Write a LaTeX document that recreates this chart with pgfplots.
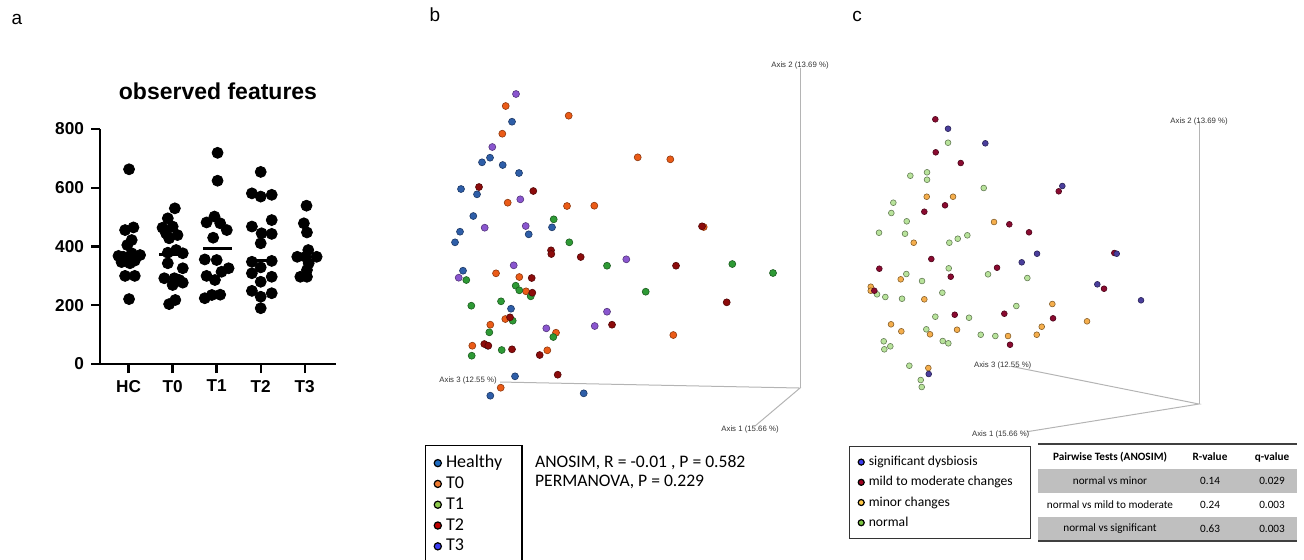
\documentclass[border=0pt]{standalone}
\usepackage{fontspec}
\setmainfont{Liberation Sans}
\newfontfamily\calibri{Carlito}
\usepackage{pgfplots}
\pgfplotsset{compat=1.18}
\definecolor{bblue}{HTML}{2E5EA8}
\definecolor{borange}{HTML}{EB5B17}
\definecolor{bgreen}{HTML}{2E9A35}
\definecolor{bred}{HTML}{8C0B0B}
\definecolor{bpurple}{HTML}{8A56CF}
\definecolor{lb1}{HTML}{1F6BC0}
\definecolor{lb2}{HTML}{EE7A30}
\definecolor{lb3}{HTML}{8DC94C}
\definecolor{lb4}{HTML}{BF0000}
\definecolor{lb5}{HTML}{3C3CF2}
\definecolor{cnavy}{HTML}{4A3E9C}
\definecolor{cred}{HTML}{8A0A30}
\definecolor{corange}{HTML}{F5AE4C}
\definecolor{cgreen}{HTML}{B8E39B}
\definecolor{lc1}{HTML}{3B3BF0}
\definecolor{lc2}{HTML}{A00020}
\definecolor{lc3}{HTML}{FFC845}
\definecolor{lc4}{HTML}{7CC540}
\definecolor{tgrey}{HTML}{BFBFBF}
\definecolor{axgrey}{HTML}{B4B4B4}
\pgfplotsset{
  pix/.style={at={(0pt,0pt)}, anchor=north west, scale only axis, width=652pt, height=279.5pt,
    xmin=0, xmax=1304, ymin=0, ymax=559, y dir=reverse, hide axis, clip=false},
  bpt/.style={forget plot, only marks, mark=*, mark size=1.75pt,
    mark options={fill=#1, draw=#1!60!black, line width=0.3pt}},
  cpt/.style={forget plot, only marks, mark=*, mark size=1.45pt,
    mark options={fill=#1, draw=#1!55!black, line width=0.3pt}},
  dotlegend/.style={legend image code/.code={\fill[##1] (0pt,0pt) circle (#1);}},
  apt/.style={only marks, mark=*, mark size=2.75pt, black},
}
\begin{document}
\begin{tikzpicture}[x=0.5pt,y=-0.5pt]
\path[use as bounding box] (0,0) rectangle (1304,559);

% panel letters
\node[font=\fontsize{9.5}{11}\selectfont] at (17,19) {a};
\node[font=\fontsize{9.5}{11}\selectfont] at (435,15) {b};
\node[font=\fontsize{9.5}{11}\selectfont] at (857,16) {c};

% ---------------- panel a ----------------
\begin{axis}[
  at={(50pt,-182pt)}, anchor=south west,
  scale only axis, width=118pt, height=117.5pt,
  xmin=-0.65, xmax=4.71, ymin=0, ymax=800,
  axis x line=bottom, axis y line=left,
  axis line style={line width=1.2pt,-},
  xtick={0,1,2,3,4}, xticklabels={HC,T0,T1,T2,T3},
  ytick={0,200,400,600,800},
  tick align=outside, major tick length=4.5pt,
  tick style={line width=1.2pt,black},
  ticklabel style={font=\bfseries\fontsize{8.6}{10}\selectfont},
  /pgf/number format/assume math mode=true,
  title={observed features},
  title style={font=\bfseries\fontsize{11.5}{13}\selectfont, at={(0.5,1.111)}, anchor=center},
  clip=false,
]
\addplot[apt] coordinates {
(0.01,663)(-0.08,456)(0.11,465)(0.07,422)(-0.03,405)(-0.23,368)(-0.12,365)(0.07,377)
(0.26,371)(-0.01,354)(0.14,352)(-0.16,347)(0.03,343)(-0.08,300)(0.14,300)(0.01,221)};
\addplot[apt] coordinates {
(1.05,530)(0.89,496)(0.77,464)(1.00,468)(0.85,445)(1.11,439)(0.92,428)(1.08,388)
(0.89,379)(1.23,377)(0.89,343)(1.23,326)(0.81,292)(1.04,292)(1.15,286)(1.00,269)
(1.23,277)(1.06,218)(0.92,204)};
\addplot[apt] coordinates {
(2.02,719)(2.02,624)(1.95,502)(1.77,482)(2.08,479)(2.23,456)(1.92,430)(1.73,356)
(2.00,354)(2.27,326)(2.11,314)(1.77,300)(1.96,286)(1.89,235)(2.08,236)(1.73,224)};
\addplot[apt] coordinates {
(3.00,654)(2.80,581)(3.00,570)(3.25,576)(2.80,468)(3.25,490)(3.02,445)(3.25,443)
(3.00,411)(2.80,348)(3.25,351)(3.00,329)(2.80,309)(3.25,297)(3.00,280)(2.80,249)
(3.25,241)(3.00,229)(3.00,190)};
\addplot[apt] coordinates {
(4.04,539)(3.98,479)(4.05,448)(4.08,388)(3.83,365)(4.02,365)(4.27,365)(4.09,343)
(4.05,320)(3.90,297)(4.05,297)};
\addplot[line width=1.2pt, black] coordinates {(-0.32,365)(0.32,365)};
\addplot[line width=1.2pt, black] coordinates {(0.70,373)(1.34,373)};
\addplot[line width=1.2pt, black] coordinates {(1.70,393)(2.34,393)};
\addplot[line width=1.2pt, black] coordinates {(2.70,353)(3.34,353)};
\addplot[line width=1.2pt, black] coordinates {(3.70,365)(4.34,365)};
\end{axis}

% ---------------- panel b ----------------
\begin{axis}[pix, dotlegend=1.8pt,
  legend style={at={(axis cs:425,445)}, anchor=north west, draw=black, line width=0.6pt,
    font=\calibri\fontsize{9}{10}\selectfont, inner xsep=4pt, inner ysep=5pt,
    row sep=2.9pt, column sep=0pt,
    nodes={inner xsep=2pt, inner ysep=0pt, text height=6pt, text depth=1.5pt}},
  legend cell align=left]
\draw[axgrey, line width=0.5pt] (axis cs:800,68) -- (axis cs:800,388);
\draw[axgrey, line width=0.5pt] (axis cs:500,382) -- (axis cs:800,388) -- (axis cs:755,426);
\node[font=\fontsize{3.9}{4.5}\selectfont, text=black!80] at (axis cs:800,65) {Axis 2 (13.69 \%)};
\node[font=\fontsize{3.9}{4.5}\selectfont, text=black!80] at (axis cs:468,380) {Axis 3 (12.55 \%)};
\node[font=\fontsize{3.9}{4.5}\selectfont, text=black!80] at (axis cs:750,429) {Axis 1 (15.66 \%)};
\addplot[bpt=bblue] coordinates {
(512,121.7)(490,157.7)(482,162.3)(502.7,165)(519,173)(461,189)(477,194.3)(473.3,216)
(460,231.7)(455,242.3)(552,227.3)(528.7,234.3)(463,270.7)(511,308.7)(487.7,345.7)
(515,376.3)(490.3,395.7)(583.7,393.3)};
\addplot[bpt=borange] coordinates {
(505.7,106)(568.7,115.7)(502.3,133.7)(637.7,157.3)(670.3,159.3)(507.7,202.7)(567,206)
(594.3,205.7)(703.7,227)(496,273.3)(519.3,277)(526,291.3)(505.3,319)(490.3,324.7)
(556,332.7)(673.3,335)(472.3,345.7)(547.3,350.3)(500.7,387.7)};
\addplot[bpt=bgreen] coordinates {
(553.7,219.3)(569.3,242.3)(607,265.7)(732.3,264)(773,273)(466.3,280)(515.7,285.7)
(519.3,290.3)(530.7,296.3)(645.7,291.7)(501,301.3)(471.3,305.7)(512.7,320.7)
(489.3,332.3)(553.3,337)(501.7,350)(471.7,355.7)};
\addplot[bpt=bred] coordinates {
(479,187)(533.3,191)(551,250.3)(551.3,254)(580.7,257)(702,226.3)(676,265.7)(531.7,278)
(532.3,292.7)(726.7,302.3)(510,317.3)(612,324.7)(484.3,344)(488.3,345.7)(512,349.3)
(539.7,355)(557.7,374.7)};
\addplot[bpt=bpurple] coordinates {
(516,94)(492.3,147)(520.3,199.3)(484.7,227.7)(525.7,226)(513.7,265.3)(458.7,277.7)
(626.3,259.3)(607,311.7)(594.7,326)(546.3,328.3)};
\addlegendimage{fill=lb1}\addlegendentry{\makebox[32pt][l]{Healthy}}
\addlegendimage{fill=lb2}\addlegendentry{T0}
\addlegendimage{fill=lb3}\addlegendentry{T1}
\addlegendimage{fill=lb4}\addlegendentry{T2}
\addlegendimage{fill=lb5}\addlegendentry{T3}
\node[anchor=west, font=\calibri\fontsize{8.8}{10}\selectfont] at (axis cs:528,463) {ANOSIM, R = -0.01 , P = 0.582};
\node[anchor=west, font=\calibri\fontsize{8.8}{10}\selectfont] at (axis cs:528,482) {PERMANOVA, P = 0.229};
\end{axis}

% ---------------- panel c ----------------
\begin{axis}[pix, dotlegend=1.5pt,
  legend style={at={(axis cs:849,446)}, anchor=north west, draw=black!80, line width=0.6pt,
    font=\calibri\fontsize{6.8}{8}\selectfont, inner xsep=4pt, inner ysep=4.5pt,
    row sep=3.6pt, column sep=0pt,
    nodes={inner xsep=2pt, inner ysep=0pt, text height=5pt, text depth=1.5pt}},
  legend cell align=left]
\draw[axgrey, line width=0.5pt] (axis cs:1199,121) -- (axis cs:1199,404);
\draw[axgrey, line width=0.5pt] (axis cs:1013,366.7) -- (axis cs:1199,404) -- (axis cs:1027,431.7);
\node[font=\fontsize{3.9}{4.5}\selectfont, text=black!80] at (axis cs:1199,121) {Axis 2 (13.69 \%)};
\node[font=\fontsize{3.9}{4.5}\selectfont, text=black!80] at (axis cs:1002.7,365) {Axis 3 (12.55 \%)};
\node[font=\fontsize{3.9}{4.5}\selectfont, text=black!80] at (axis cs:1000.7,434) {Axis 1 (15.66 \%)};
\addplot[cpt=cgreen] coordinates {
(948,142.7)(927,172.3)(927,179.7)(910.3,175.7)(983.7,188)(893.3,202.7)(891.3,213)
(906.7,221.3)(879,232.7)(905,233.7)(949.3,242.7)(957.7,238.7)(967.3,235.3)(948.7,268.3)
(906.3,274)(922,281)(988,274.3)(1027.3,278)(942.3,292.7)(877,294.3)(885.3,297)
(902,298.7)(1016.3,306)(935.3,316.7)(969,317.7)(926.3,329.3)(980.7,334.7)(995.3,336)
(942.7,341)(948.3,343.3)(883.7,341.3)(890.3,346.3)(884.3,349.3)(909.3,365.7)
(920.7,380)(921.7,387)};
\addplot[cpt=corange] coordinates {
(926.7,196.7)(953,196.7)(994,222)(913.7,242.7)(900.7,279.3)(870.7,286.7)(870.7,290.7)
(924.3,299.3)(1052.3,304)(1087,321.3)(1041.7,326.7)(957,329.7)(891,324.3)(901.3,331.3)
(930,334.3)(1008,336)(1036.7,334.7)(928.3,368)};
\addplot[cpt=cred] coordinates {
(935.3,119.3)(935.7,152.3)(960.7,163)(945,205.3)(924.3,211.7)(1058.7,191.3)(1009.3,224.3)
(1029,232.3)(1114.3,253)(931.3,259)(997,267.7)(879.3,268.7)(950.7,276.7)(874.3,290.7)
(1104,288.7)(954.7,314.7)(1004.3,313.7)(1053,318.3)(1010,344.7)};
\addplot[cpt=cnavy] coordinates {
(948,128.7)(985.3,143.3)(1062.3,186)(1037,253.7)(1021.7,262.3)(1116.7,253.7)
(1097.3,284.3)(1141,300.3)(928.7,374)};
\addlegendimage{fill=lc1}\addlegendentry{\makebox[75pt][l]{significant dysbiosis}}
\addlegendimage{fill=lc2}\addlegendentry{mild to moderate changes}
\addlegendimage{fill=lc3}\addlegendentry{minor changes}
\addlegendimage{fill=lc4}\addlegendentry{normal}
\end{axis}

% ---------------- table ----------------
\fill[tgrey] (1038,469) rectangle (1297,493.3);
\fill[tgrey] (1038,517.3) rectangle (1297,541);
\draw[black!75, line width=0.7pt] (1038,444) -- (1297,444);
\draw[black!75, line width=0.9pt] (1038,541) -- (1297,541);
\begin{scope}[every node/.style={font=\calibri\fontsize{5.6}{6.5}\selectfont}]
\node[font=\calibri\bfseries\fontsize{5.6}{6.5}\selectfont] at (1110,457) {Pairwise Tests (ANOSIM)};
\node[font=\calibri\bfseries\fontsize{5.6}{6.5}\selectfont] at (1210,457) {R-value};
\node[font=\calibri\bfseries\fontsize{5.6}{6.5}\selectfont] at (1272,457) {q-value};
\node at (1110,481) {normal vs minor};
\node at (1210,481) {0.14};
\node at (1272,481) {0.029};
\node at (1110,505) {normal vs mild to moderate};
\node at (1210,505) {0.24};
\node at (1272,505) {0.003};
\node at (1110,529) {normal vs significant};
\node at (1210,529) {0.63};
\node at (1272,529) {0.003};
\end{scope}
\end{tikzpicture}
\end{document}
